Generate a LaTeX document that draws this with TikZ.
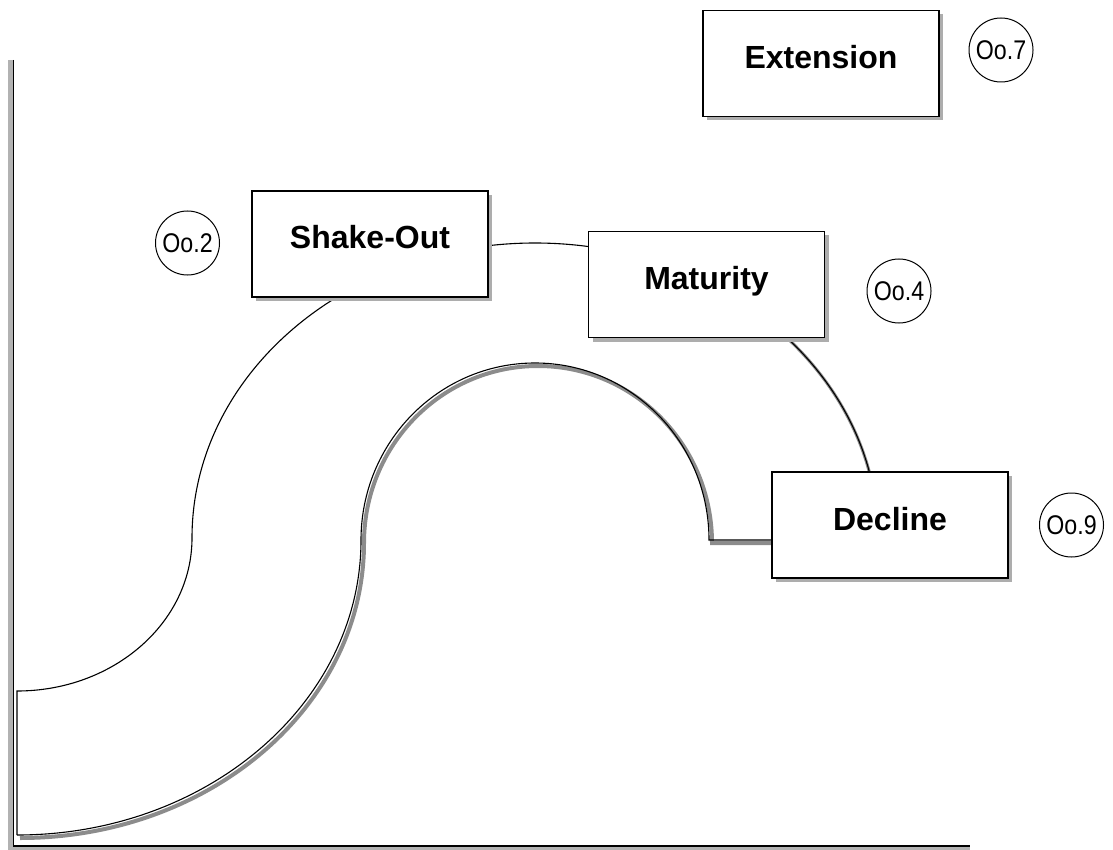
\documentclass[tikz,border=0pt]{standalone}
\usepackage{fontspec}
\setmainfont{Liberation Sans}
\newfontfamily\tagfont[FakeStretch=0.86]{Liberation Sans}
\usetikzlibrary{shadows,calc}
\pgfdeclarelayer{background}
\pgfsetlayers{background,main}
\begin{document}
\begin{tikzpicture}[x=1pt,y=-1pt,
  stage/.style={draw=black, line width=1.3pt, fill=white,
    minimum width=236pt, minimum height=106pt, inner sep=0pt,
    text height=23pt, text depth=13pt,
    font=\fontsize{32}{38}\selectfont\bfseries,
    drop shadow={shadow xshift=4pt, shadow yshift=-4pt, fill=black!32, opacity=1}},
  tag/.style={draw=black, line width=1pt, circle, minimum size=64pt,
    inner sep=0pt, font=\tagfont\fontsize{27}{30}\selectfont},
  curve/.style={line width=1.1pt},
  cshadow/.style={draw=black!45, line width=4pt}
]
\useasboundingbox (0,0) rectangle (1113,850);

% axes with their shadow
\fill[black!30] (8,60) rectangle (12.7,850);
\fill[black!30] (8,847) rectangle (970,850);
\draw[line width=1.5pt] (13.4,60) -- (13.4,845.8) -- (970,845.8);

% stages
\node[stage] (shake) at (370,244) {Shake-Out};
\node[stage] (mat)   at (706.5,284.5) {Maturity};
\node[stage] (dec)   at (890,525) {Decline};
\node[stage] (ext)   at (821,63.5) {Extension};

% markers
\node[tag] (t2) at (187.5,243) {Oo.2};
\node[tag] (t4) at (899,291) {Oo.4};
\node[tag] (t7) at (1001,50) {Oo.7};
\node[tag] (t9) at (1071.5,525) {Oo.9};

\begin{pgfonlayer}{background}
  \coordinate (bc) at (535,538);   % centre of the outer arc
  \coordinate (ie) at (709,540);   % end of the inner arc

  % shadows of the band
  \draw[cshadow, shift={(3,3)}]
    (17,835) arc[start angle=90, end angle=0, x radius=344, y radius=295]
             arc[start angle=180, end angle=360, x radius=174, y radius=177]
    -- (772,540);
  \draw[cshadow, line width=3pt, shift={(2,2)}]
    ($(bc)+(318:343 and 295)$)
    arc[start angle=318, end angle=352, x radius=343, y radius=295];

  % outer edge of the band, running under the stage boxes
  \draw[curve] (17,835) -- (17,691)
    arc[start angle=90, end angle=0, x radius=175, y radius=153]
    arc[start angle=180, end angle=360, x radius=343, y radius=295];

  % inner edge of the band, ending at Decline
  \draw[curve]
    (17,835) arc[start angle=90, end angle=0, x radius=344, y radius=295]
             arc[start angle=180, end angle=360, x radius=174, y radius=177]
    -- (ie -| dec.west);
\end{pgfonlayer}
\end{tikzpicture}
\end{document}
